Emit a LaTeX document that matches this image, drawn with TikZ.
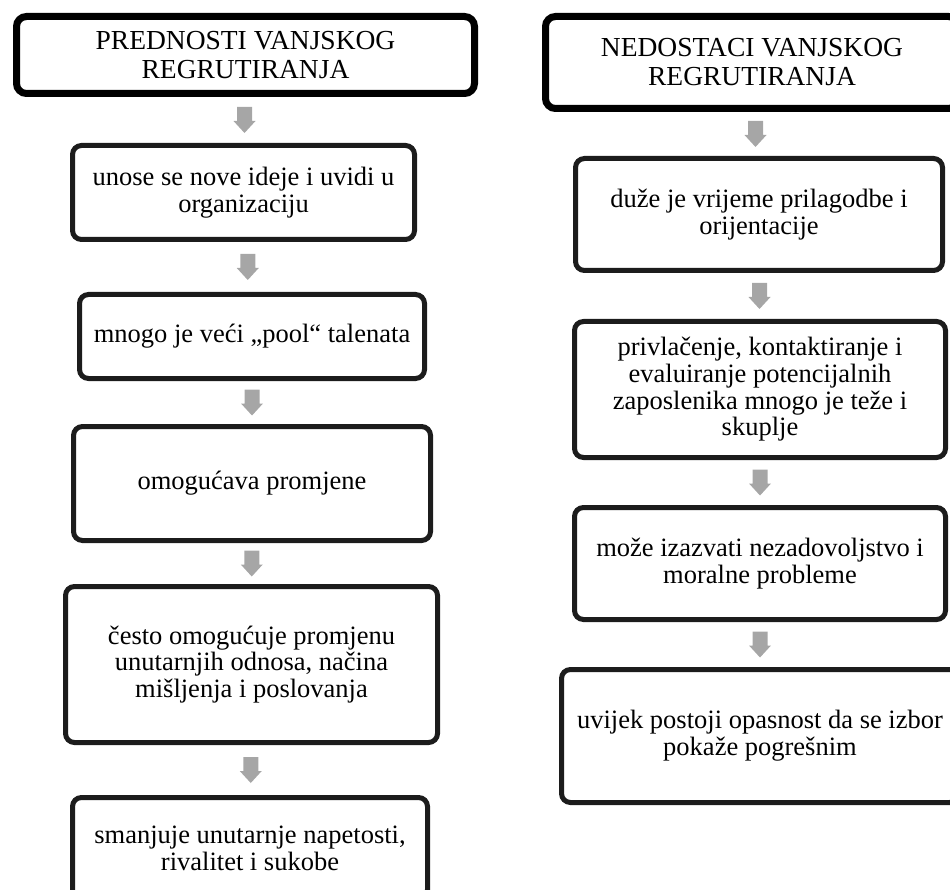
\documentclass[tikz,border=0pt]{standalone}
\usepackage{fontspec}
\setmainfont{Liberation Serif}
\usetikzlibrary{calc,shadows}
\definecolor{arrowgray}{HTML}{A6A6A6}
\definecolor{boxline}{HTML}{1C1C1C}
\tikzset{
  titlebox/.style={draw=black, line width=7pt, rounded corners=10pt, fill=white,
    align=center, inner sep=0pt, font=\fontsize{27.5}{29}\selectfont,
    drop shadow={opacity=0.22, shadow xshift=1.5pt, shadow yshift=-3pt}},
  bodybox/.style={draw=boxline, line width=5pt, rounded corners=9pt, fill=white,
    align=center, inner sep=0pt, font=\fontsize{26.5}{26.7}\selectfont},
  flowarrow/.style={fill=arrowgray, draw=none}
}
\newcommand{\blockarrowdraw}[2]{%
  \coordinate (m) at ($(#1.south)!0.5!(#2.north)$);
  \fill[flowarrow] ($(m)+(-7.5,-13)$) -- ($(m)+(7.5,-13)$) -- ($(m)+(7.5,1)$)
    -- ($(m)+(11,1)$) -- ($(m)+(0,13)$) -- ($(m)+(-11,1)$) -- ($(m)+(-7.5,1)$) -- cycle;
}
\begin{document}
\begin{tikzpicture}[x=1pt, y=-1pt]
\useasboundingbox (0,0) rectangle (950,890);

% left column
\node[titlebox, minimum width=458pt, minimum height=77pt] (lt) at (245.5,55)
  {PREDNOSTI VANJSKOG\\REGRUTIRANJA};
\node[bodybox, minimum width=342pt, minimum height=94pt] (l1) at (243.5,192.5)
  {unose se nove ideje i uvidi u\\organizaciju};
\node[bodybox, minimum width=345pt, minimum height=84pt] (l2) at (252,336.5)
  {mnogo je veći „pool“ talenata};
\node[bodybox, minimum width=357pt, minimum height=114pt] (l3) at (252,483.5)
  {omogućava promjene};
\node[bodybox, minimum width=372pt, minimum height=156pt] (l4) at (251.5,664.5)
  {često omogućuje promjenu\\unutarnjih odnosa, načina\\mišljenja i poslovanja};
\node[bodybox, minimum width=355pt, minimum height=101pt] (l5) at (250,848)
  {smanjuje unutarnje napetosti,\\rivalitet i sukobe};

% right column
\node[titlebox, minimum width=413pt, minimum height=92pt] (rt) at (752,62.5)
  {NEDOSTACI VANJSKOG\\REGRUTIRANJA};
\node[bodybox, minimum width=367pt, minimum height=112pt] (r1) at (759,214.5)
  {duže je vrijeme prilagodbe i\\orijentacije};
\node[bodybox, minimum width=371pt, minimum height=136pt] (r2) at (760,389.5)
  {privlačenje, kontaktiranje i\\evaluiranje potencijalnih\\zaposlenika mnogo je teže i\\skuplje};
\node[bodybox, minimum width=371pt, minimum height=112pt] (r3) at (760,563.5)
  {može izazvati nezadovoljstvo i\\moralne probleme};
\node[bodybox, minimum width=397pt, minimum height=133pt] (r4) at (760,736)
  {uvijek postoji opasnost da se izbor\\pokaže pogrešnim};

% arrows
\blockarrowdraw{lt}{l1}
\blockarrowdraw{l1}{l2}
\blockarrowdraw{l2}{l3}
\blockarrowdraw{l3}{l4}
\blockarrowdraw{l4}{l5}
\blockarrowdraw{rt}{r1}
\blockarrowdraw{r1}{r2}
\blockarrowdraw{r2}{r3}
\blockarrowdraw{r3}{r4}
\end{tikzpicture}
\end{document}
